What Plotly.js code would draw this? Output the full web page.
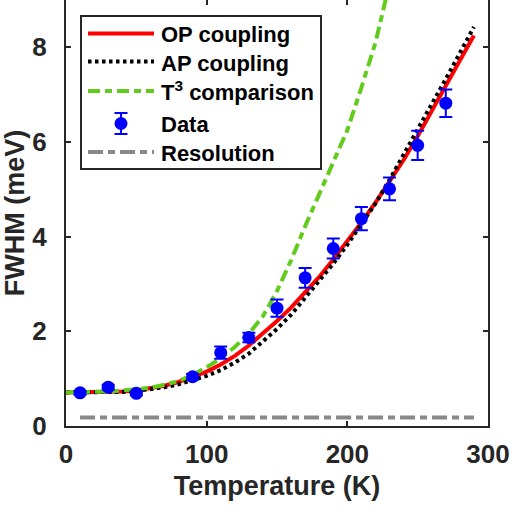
<!DOCTYPE html>
<html>
<head>
<meta charset="utf-8">
<script src="https://cdn.plot.ly/plotly-3.0.1.min.js"></script>
<style>html,body{margin:0;padding:0;background:#fff;}#plot{width:510px;height:510px;}</style>
</head>
<body>
<div id="plot"></div>
<script>
// Data
const curveT = [0,10,20,30,40,50,60,70,80,90,100,110,120,130,140,150,160,170,180,190,200,210,220,230,240,250,260,270,280,290];
const opCoupling = [0.71,0.71,0.71,0.72,0.73,0.75,0.79,0.85,0.93,1.03,1.15,1.30,1.48,1.70,1.95,2.22,2.50,2.82,3.15,3.52,3.90,4.30,4.72,5.16,5.62,6.12,6.64,7.20,7.72,8.25];
const apCoupling = [0.71,0.71,0.71,0.71,0.72,0.74,0.77,0.82,0.88,0.96,1.06,1.18,1.34,1.53,1.78,2.05,2.35,2.70,3.05,3.43,3.83,4.25,4.70,5.20,5.72,6.25,6.80,7.33,7.88,8.43];
const t3T = [0,10,20,30,40,50,60,70,80,90,100,110,120,130,140,150,160,170,180,190,200,210,220,230];
const t3Comparison = [0.71,0.71,0.72,0.73,0.75,0.77,0.81,0.87,0.95,1.08,1.24,1.43,1.67,1.95,2.32,2.85,3.50,4.22,4.90,5.55,6.25,7.15,8.10,9.35];
const dataT = [10,30,50,90,110,130,150,170,190,210,230,250,270];
const dataFWHM = [0.70,0.82,0.69,1.04,1.55,1.87,2.49,3.13,3.75,4.38,5.01,5.93,6.82];
const dataErr = [0.04,0.05,0.04,0.06,0.13,0.10,0.18,0.21,0.21,0.245,0.24,0.31,0.29];
const resT = [10,290];
const resFWHM = [0.18,0.18];
const legendNames = ['OP coupling','AP coupling','T<sup>3</sup> comparison','Data','Resolution'];

const FONT = 'Liberation Sans, Arial, sans-serif';
const AX = '#262626';
const COLORS = {op: '#ff0000', ap: '#000000', t3: '#62cc1c', data: '#0000ff', res: '#888888'};
const DASH = {op: 'solid', ap: '3.5px,3.5px', t3: '12px,5px,7px,5px', res: '15px,5px,7px,5px'};

// plot-area geometry (pixels) used to place the hand-drawn legend box
const M = {l: 66, r: 22, t: 0, b: 84};
const PW = 510 - M.l - M.r, PH = 510 - M.t - M.b;
const px = v => (v - M.l) / PW;
const py = v => (PH + M.t - v) / PH;

const traces = [
  {x: curveT, y: opCoupling, mode: 'lines', name: legendNames[0],
   line: {color: COLORS.op, width: 4}},
  {x: curveT, y: apCoupling, mode: 'lines', name: legendNames[1],
   line: {color: COLORS.ap, width: 4, dash: DASH.ap}},
  {x: t3T, y: t3Comparison, mode: 'lines', name: legendNames[2],
   line: {color: COLORS.t3, width: 4, dash: DASH.t3}},
  {x: dataT, y: dataFWHM, mode: 'markers', name: legendNames[3],
   marker: {color: COLORS.data, size: 13, symbol: 'circle'},
   error_y: {type: 'data', array: dataErr, visible: true, color: COLORS.data, thickness: 2, width: 6.5}},
  {x: resT, y: resFWHM, mode: 'lines', name: legendNames[4],
   line: {color: COLORS.res, width: 4, dash: DASH.res}}
];

// legend (box, samples, labels)
const box = {x0: 81, x1: 321, y0: 16, y1: 169};
const rows = [33.5, 61.5, 91, 123.5, 152];
const sampleX0 = 88, sampleX1 = 154, textX = 159;
const shapes = [
  {type: 'rect', xref: 'paper', yref: 'paper', x0: px(box.x0), x1: px(box.x1), y0: py(box.y1), y1: py(box.y0),
   fillcolor: '#ffffff', line: {color: AX, width: 2}, layer: 'above'}
];
const keys = ['op', 'ap', 't3', null, 'res'];
keys.forEach((k, i) => {
  if (!k) return;
  shapes.push({type: 'line', xref: 'paper', yref: 'paper', x0: px(sampleX0), x1: px(sampleX1),
    y0: py(rows[i]), y1: py(rows[i]), line: {color: COLORS[k], width: 4, dash: DASH[k]}, layer: 'above'});
});
// data symbol: error bar + marker
const mx = 121, my = rows[3];
shapes.push({type: 'line', xref: 'paper', yref: 'paper', x0: px(mx), x1: px(mx), y0: py(my - 10.5), y1: py(my + 10.5),
  line: {color: COLORS.data, width: 2}, layer: 'above'});
shapes.push({type: 'line', xref: 'paper', yref: 'paper', x0: px(mx - 6.5), x1: px(mx + 6.5), y0: py(my - 10.5), y1: py(my - 10.5),
  line: {color: COLORS.data, width: 2}, layer: 'above'});
shapes.push({type: 'line', xref: 'paper', yref: 'paper', x0: px(mx - 6.5), x1: px(mx + 6.5), y0: py(my + 10.5), y1: py(my + 10.5),
  line: {color: COLORS.data, width: 2}, layer: 'above'});
shapes.push({type: 'circle', xref: 'paper', yref: 'paper', x0: px(mx - 6.5), x1: px(mx + 6.5), y0: py(my + 6.5), y1: py(my - 6.5),
  fillcolor: COLORS.data, line: {color: COLORS.data, width: 0}, layer: 'above'});

const textRows = [35, 63, 90.5, 124.5, 153.5];
const annotations = legendNames.map((name, i) => ({
  xref: 'paper', yref: 'paper', x: px(textX), y: py(textRows[i]), xanchor: 'left', yanchor: 'middle',
  text: name, showarrow: false, align: 'left',
  font: {family: FONT, size: 22, color: '#000000', weight: 700}
}));

const layout = {
  width: 510, height: 510,
  margin: {l: M.l, r: M.r, t: M.t, b: M.b, pad: 0},
  paper_bgcolor: '#ffffff', plot_bgcolor: '#ffffff',
  font: {family: FONT, color: AX, weight: 700},
  showlegend: false,
  shapes: shapes,
  annotations: annotations,
  xaxis: {
    range: [0, 300], tickvals: [0,100,200,300], ticktext: ['0','100','200','300'],
    ticks: 'inside', ticklen: 5, tickwidth: 2, tickcolor: AX,
    showline: true, linecolor: AX, linewidth: 2, mirror: 'allticks',
    showgrid: false, zeroline: false,
    tickfont: {family: FONT, size: 26, color: AX, weight: 700},
    ticklabelstandoff: 4,
    title: {text: 'Temperature (K)', font: {family: FONT, size: 27, color: AX, weight: 700}, standoff: 8}
  },
  yaxis: {
    range: [0, 9], tickvals: [0,2,4,6,8], ticktext: ['0','2','4','6','8'],
    ticks: 'inside', ticklen: 5, tickwidth: 2, tickcolor: AX,
    showline: true, linecolor: AX, linewidth: 2, mirror: 'allticks',
    showgrid: false, zeroline: false,
    tickfont: {family: FONT, size: 26, color: AX, weight: 700},
    ticklabelstandoff: 12,
    title: {text: 'FWHM (meV)', font: {family: FONT, size: 27, color: AX, weight: 700}, standoff: 3}
  }
};

Plotly.newPlot('plot', traces, layout, {staticPlot: true, displayModeBar: false});
</script>
</body>
</html>
